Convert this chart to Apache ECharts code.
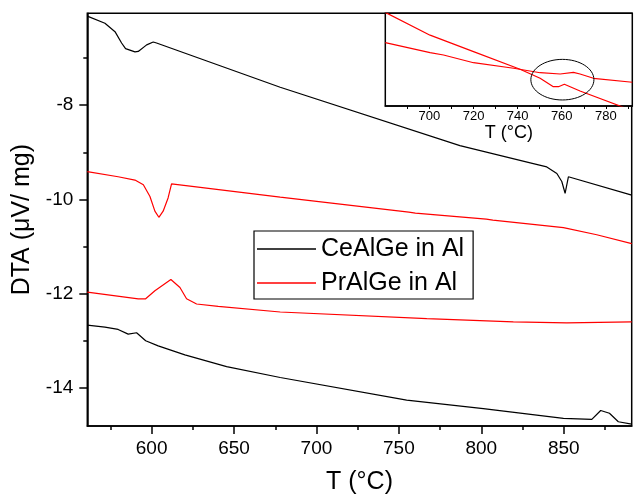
<!DOCTYPE html>
<html><head><meta charset="utf-8">
<script src="https://cdn.jsdelivr.net/npm/echarts@6/dist/echarts.min.js"></script>
<style>html,body{margin:0;padding:0;background:#fff}#c{width:634px;height:500px}</style>
</head><body><div id="c"></div>
<script>
// Main chart series [T (°C), DTA (µV/mg)]
const ceUpper = [[561,-6.11],[571.7,-6.26],[577.8,-6.44],[581.8,-6.68],[584.2,-6.80],[589.9,-6.87],[591.9,-6.86],[597,-6.72],[601,-6.66],[603,-6.68],[678,-7.62],[787,-8.86],[831.5,-9.24],[839.7,-9.31],[845.8,-9.45],[848.8,-9.62],[850.8,-9.87],[852.8,-9.52],[853.8,-9.51],[891.2,-9.91]];
const prUpper = [[561,-9.41],[579.7,-9.52],[589.9,-9.59],[595,-9.69],[599,-9.94],[602,-10.25],[604.4,-10.38],[607,-10.25],[610,-9.97],[612.1,-9.67],[678,-9.95],[756,-10.27],[760,-10.29],[803,-10.42],[807,-10.44],[849.8,-10.60],[870,-10.75],[891.2,-10.94]];
const prLower = [[561,-11.97],[591.9,-12.11],[596.4,-12.11],[602,-11.94],[611.7,-11.70],[617.2,-11.87],[621.2,-12.11],[627.3,-12.22],[640.4,-12.27],[678,-12.39],[766.9,-12.53],[819.4,-12.60],[851.8,-12.62],[891.2,-12.60]];
const ceLower = [[561,-12.67],[571.7,-12.71],[579.7,-12.76],[585.8,-12.86],[590.9,-12.83],[596.4,-13.0],[604,-13.11],[620.2,-13.30],[645.5,-13.55],[678,-13.78],[754.7,-14.26],[801.2,-14.44],[849.8,-14.65],[867,-14.67],[872.4,-14.48],[877.7,-14.54],[883.1,-14.72],[891.2,-14.77]];
// Inset series [T (°C), relative signal]
const insetSteep = [[680,101],[700.3,76.4],[720,58.6],[741.1,39.6],[750.2,29.9],[756.2,20.8],[758.5,20.8],[761.2,23.4],[768.3,16.2],[788,-1.4]];
const insetShallow = [[680,68.3],[700.3,57.5],[706.4,55.0],[720,46.7],[738.2,40.7],[750.2,35.9],[759.3,34.5],[765.3,36.3],[768.3,34.5],[774.4,29.9],[792,25.6]];
// Ticks
const xMajor = [600,650,700,750,800,850];
const xMinor = [575,625,675,725,775,825,875];
const yMajor = [-14,-12,-10,-8];
const yMinor = [-13,-11,-9,-7];
const insetTicks = [690,700,710,720,730,740,750,760,770,780,790];
const insetLabels = [700,720,740,760,780];
// Highlight ellipse in inset: center and radii in data units
const ellipseCenter = [760.3,28.4];
const ellipseRadii = [14.3,21.9];

const FONT = "'Liberation Sans', Arial, sans-serif";
const chart = echarts.init(document.getElementById('c'), null, {renderer:'canvas'});
const axLine = {show:true, lineStyle:{color:'#000', width:1.5}};
const option = {
  animation:false,
  textStyle:{fontFamily:FONT},
  grid:[
    {left:87.3, right:2.3, top:13.3, bottom:70, show:true, borderColor:'#000', borderWidth:1.5, backgroundColor:'transparent'},
    {left:385.3, top:13.3, width:247, height:92.7, show:true, borderColor:'#000', borderWidth:1.5, backgroundColor:'#fff', z:10}
  ],
  legend:{
    left:254, top:231, orient:'vertical', backgroundColor:'#fff',
    borderColor:'#000', borderWidth:1.2, borderRadius:0,
    padding:[4,9,2,3], icon:'rect', itemWidth:59, itemHeight:1.3, itemGap:6,
    textStyle:{fontSize:25, color:'#000', lineHeight:28, fontFamily:FONT},
    data:['CeAlGe in Al','PrAlGe in Al'], z:20
  },
  xAxis:[
    {gridIndex:0, type:'value', min:561, max:891.2, axisLine:axLine,
     axisTick:{show:true, length:8, customValues:xMajor, lineStyle:{color:'#000', width:1.5}},
     axisLabel:{customValues:xMajor, fontSize:19, color:'#000', margin:13, fontFamily:FONT},
     splitLine:{show:false},
     name:'T (°C)', nameLocation:'middle', nameGap:44,
     nameTextStyle:{fontSize:25, color:'#000', fontFamily:FONT}},
    {gridIndex:0, type:'value', position:'bottom', min:561, max:891.2, axisLine:{show:false},
     axisTick:{show:true, length:4, customValues:xMinor, lineStyle:{color:'#000', width:1.5}},
     axisLabel:{show:false}, splitLine:{show:false}},
    {gridIndex:1, type:'value', min:680, max:792, axisLine:{show:true, lineStyle:{color:'#000', width:1.5}}, z:11,
     axisTick:{show:true, length:3, customValues:insetTicks, lineStyle:{color:'#000', width:1}},
     axisLabel:{customValues:insetLabels, fontSize:13, color:'#000', margin:4, fontFamily:FONT},
     splitLine:{show:false},
     name:'T (°C)', nameLocation:'middle', nameGap:16,
     nameTextStyle:{fontSize:18, color:'#000', fontFamily:FONT}}
  ],
  yAxis:[
    {gridIndex:0, type:'value', min:-14.81, max:-6.05, axisLine:axLine,
     axisTick:{show:true, length:8, customValues:yMajor, lineStyle:{color:'#000', width:1.5}},
     axisLabel:{customValues:yMajor, fontSize:19, color:'#000', margin:14, fontFamily:FONT},
     splitLine:{show:false},
     name:'DTA (μV/ mg)', nameLocation:'middle', nameGap:48,
     nameTextStyle:{fontSize:25, color:'#000', fontFamily:FONT}},
    {gridIndex:0, type:'value', position:'left', min:-14.81, max:-6.05, axisLine:{show:false},
     axisTick:{show:true, length:4, customValues:yMinor, lineStyle:{color:'#000', width:1.5}},
     axisLabel:{show:false}, splitLine:{show:false}},
    {gridIndex:1, type:'value', min:0, max:100, show:false, splitLine:{show:false}}
  ],
  series:[
    {name:'CeAlGe in Al', type:'line', xAxisIndex:0, yAxisIndex:0, data:ceUpper, symbol:'none', showSymbol:false, color:'#000', lineStyle:{color:'#000', width:1.2}, clip:true},
    {name:'PrAlGe in Al', type:'line', xAxisIndex:0, yAxisIndex:0, data:prUpper, symbol:'none', showSymbol:false, color:'#ff0000', lineStyle:{color:'#ff0000', width:1.2}, clip:true},
    {name:'PrAlGe in Al', type:'line', xAxisIndex:0, yAxisIndex:0, data:prLower, symbol:'none', showSymbol:false, color:'#ff0000', lineStyle:{color:'#ff0000', width:1.2}, clip:true},
    {name:'CeAlGe in Al', type:'line', xAxisIndex:0, yAxisIndex:0, data:ceLower, symbol:'none', showSymbol:false, color:'#000', lineStyle:{color:'#000', width:1.2}, clip:true},
    {name:'inset1', type:'line', xAxisIndex:2, yAxisIndex:2, data:insetSteep, symbol:'none', showSymbol:false, color:'#ff0000', lineStyle:{color:'#ff0000', width:1.2}, clip:true, z:12},
    {name:'inset2', type:'line', xAxisIndex:2, yAxisIndex:2, data:insetShallow, symbol:'none', showSymbol:false, color:'#ff0000', lineStyle:{color:'#ff0000', width:1.2}, clip:true, z:12}
  ]
};
chart.setOption(option);
const c0 = chart.convertToPixel({xAxisIndex:2, yAxisIndex:2}, ellipseCenter);
const c1 = chart.convertToPixel({xAxisIndex:2, yAxisIndex:2}, [ellipseCenter[0]+ellipseRadii[0], ellipseCenter[1]+ellipseRadii[1]]);
chart.setOption({graphic:[{type:'ellipse', z:100, shape:{cx:c0[0], cy:c0[1], rx:Math.abs(c1[0]-c0[0]), ry:Math.abs(c1[1]-c0[1])}, style:{fill:'transparent', stroke:'#000', lineWidth:1}}]});
</script>
</body></html>
